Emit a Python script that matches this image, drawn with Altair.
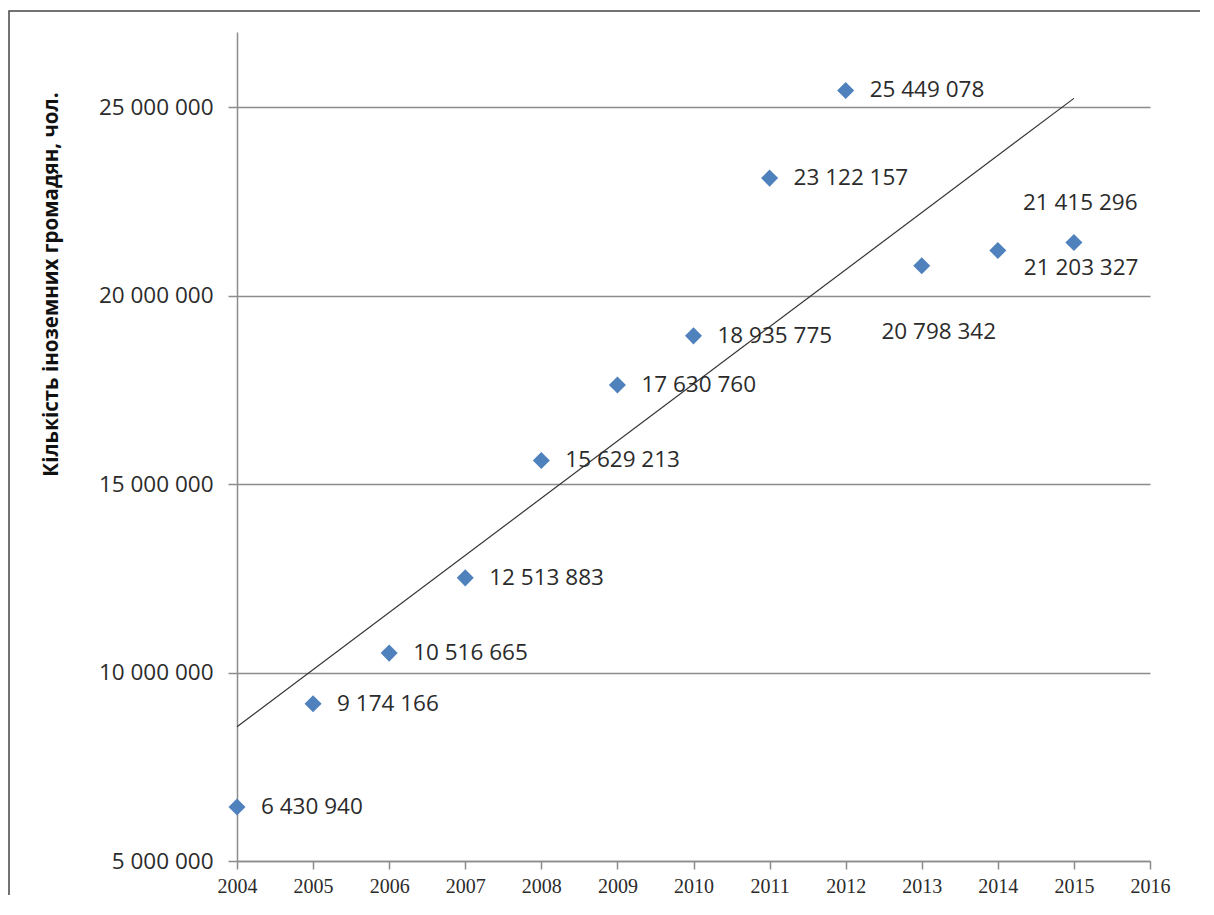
import altair as alt
import pandas as pd

years = [2004, 2005, 2006, 2007, 2008, 2009, 2010, 2011, 2012, 2013, 2014, 2015]
citizens = [6430940, 9174166, 10516665, 12513883, 15629213, 17630760,
            18935775, 23122157, 25449078, 20798342, 21203327, 21415296]
x_ticks = list(range(2004, 2017))
y_ticks = [5000000, 10000000, 15000000, 20000000, 25000000]
y_title = "Кількість іноземних громадян, чол."

df = pd.DataFrame({"year": years, "value": citizens})
df["label"] = [f"{v:,}".replace(",", " ") for v in citizens]

BLUE = "#4F81BD"
GRID = "#8C8C8C"
TXT = "#2b2b2b"
FONT = "Open Sans"

x_enc = alt.X("year:Q", scale=alt.Scale(domain=[2004, 2016], nice=False, zero=False),
              axis=alt.Axis(values=x_ticks, format="d", title=None, grid=False,
                            labelFont="Liberation Serif", labelFontSize=20,
                            labelColor=TXT, tickSize=8, tickColor=GRID,
                            tickWidth=1.5, domainColor=GRID, domainWidth=1.5,
                            labelPadding=7, labelFlush=False))
y_enc = alt.Y("value:Q", scale=alt.Scale(domain=[5000000, 27000000], nice=False, zero=False),
              axis=alt.Axis(values=y_ticks, title=y_title,
                            labelExpr="replace(format(datum.value, ','), regexp(',', 'g'), ' ')",
                            labelFont=FONT, labelFontSize=22.5, labelColor=TXT,
                            tickSize=9, tickColor=GRID, tickWidth=1.5,
                            domainColor=GRID, domainWidth=1.5,
                            gridColor=GRID, gridWidth=1.5, labelPadding=15,
                            titleFont=FONT, titleFontSize=20.5, titleFontWeight="bold",
                            titleColor="#111", titleAngle=270, titleAlign="center",
                            titleBaseline="middle", titleX=-186, titleY=252))

base = alt.Chart(df)

points = base.mark_point(shape="diamond", filled=True, size=290, color=BLUE, opacity=1).encode(
    x=x_enc, y=y_enc)

trend = base.transform_regression("year", "value").mark_line(
    color="#333333", strokeWidth=1.2).encode(x="year:Q", y="value:Q")

def labels(flt, **kw):
    return base.transform_filter(flt).mark_text(
        font=FONT, fontSize=22.5, color=TXT, baseline="middle", **kw
    ).encode(x="year:Q", y="value:Q", text="label:N")

lab_main = labels(alt.datum.year <= 2012, align="left", dx=24)
lab_2013 = labels(alt.datum.year == 2013, align="center", dx=17, dy=66)
lab_2014 = labels(alt.datum.year == 2014, align="left", dx=26, dy=18)
lab_2015 = labels(alt.datum.year == 2015, align="left", dx=-51, dy=-39)

frame_data = alt.Data(values=[{"k": 1}])
frame = alt.Chart(frame_data).mark_rect(
    fill="transparent", stroke="#444444", strokeWidth=1.5).encode(
    x=alt.value(-228), x2=alt.value(1100), y=alt.value(-21), y2=alt.value(1000))

chart = alt.layer(frame, trend, points, lab_main, lab_2013, lab_2014, lab_2015).properties(
    width=913, height=829,
    autosize=alt.AutoSizeParams(type="none"),
    padding={"left": 229, "top": 24, "right": 50, "bottom": 34},
    background="white",
).configure_view(strokeWidth=0)

chart.save("out.html", embed_options={"renderer": "svg", "actions": False})
